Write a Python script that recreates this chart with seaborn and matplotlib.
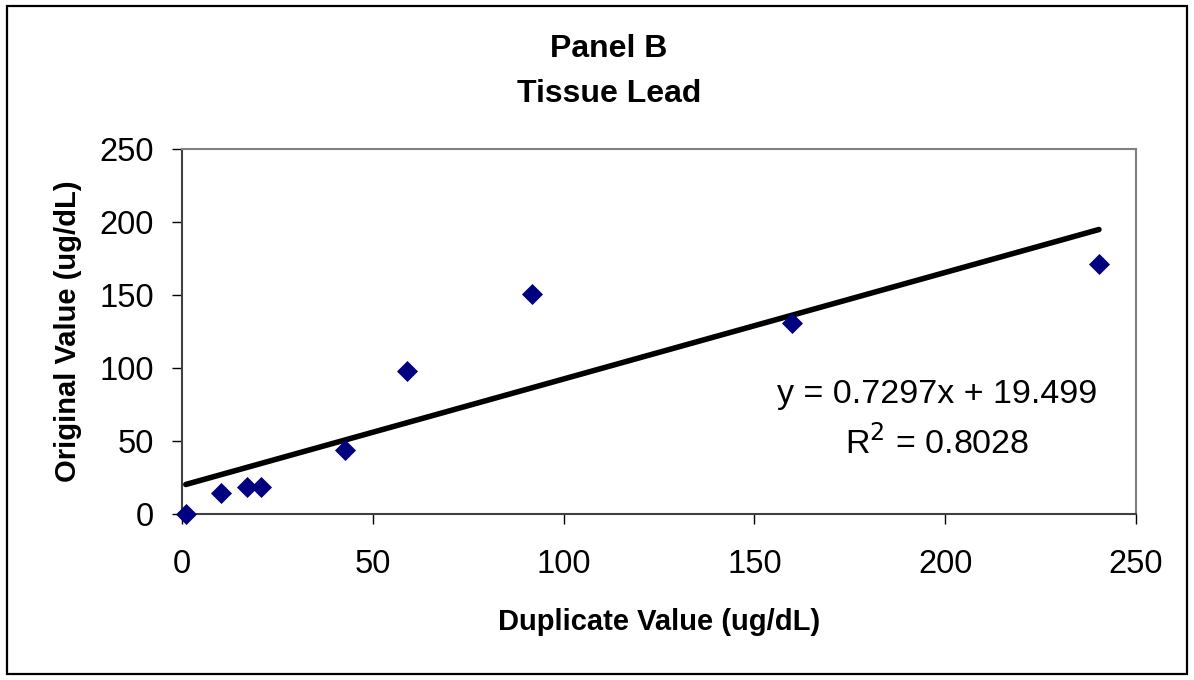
import numpy as np
import pandas as pd
import matplotlib
matplotlib.use("Agg")
import matplotlib.pyplot as plt
import seaborn as sns

# data
duplicate_value = [1.0, 10.2, 17.0, 20.7, 42.6, 59.1, 91.8, 159.8, 240.3]
original_value = [0.0, 14.4, 18.5, 18.5, 44.0, 98.2, 151.0, 131.0, 171.0]
slope = 0.7297
intercept = 19.499
r_squared = 0.8028

sns.set_style("white")
plt.rcParams["font.family"] = ["Liberation Sans", "DejaVu Sans"]
plt.rcParams["text.color"] = "black"
plt.rcParams["axes.labelcolor"] = "black"
plt.rcParams["xtick.color"] = "black"
plt.rcParams["ytick.color"] = "black"

df = pd.DataFrame({"x": duplicate_value, "y": original_value})
trend = pd.DataFrame({"x": [min(duplicate_value), max(duplicate_value)]})
trend["y"] = slope * trend["x"] + intercept

fig = plt.figure(figsize=(11.94, 6.8), dpi=100)
ax = fig.add_axes([0.1524, 0.2441, 0.799, 0.5368])

sns.lineplot(data=trend, x="x", y="y", ax=ax, color="black", linewidth=4, zorder=2)
sns.scatterplot(data=df, x="x", y="y", ax=ax, marker="D", s=115, color="#000080",
                edgecolor="#000080", linewidth=0, zorder=3, clip_on=False)

ax.set_xlim(0, 250)
ax.set_ylim(0, 250)
ax.set_xticks(range(0, 251, 50))
ax.set_yticks(range(0, 251, 50))
ax.tick_params(axis="both", labelsize=23.5, length=7, width=1, direction="out",
               color="black", bottom=True, left=True)
ax.tick_params(axis="x", pad=18)
ax.tick_params(axis="y", pad=13)

for side in ["top", "right"]:
    ax.spines[side].set_visible(True)
    ax.spines[side].set_color("#808080")
    ax.spines[side].set_linewidth(1.5)
for side in ["left", "bottom"]:
    ax.spines[side].set_color("#404040")
    ax.spines[side].set_linewidth(1.5)

ax.set_xlabel("Duplicate Value (ug/dL)", fontsize=21, fontweight="bold", labelpad=20)
ax.set_ylabel("Original Value (ug/dL)", fontsize=21, fontweight="bold", labelpad=13)

ax.text(0.792, 0.305, f"y = {slope}x + {intercept}", transform=ax.transAxes,
        fontsize=24.5, ha="center", va="baseline")
ax.text(0.792, 0.165, f"R$^2$ = {r_squared}", transform=ax.transAxes,
        fontsize=24.5, ha="center", va="baseline")

fig.text(0.51, 0.916, "Panel B", fontsize=23, fontweight="bold", ha="center", va="baseline")
fig.text(0.51, 0.85, "Tissue Lead", fontsize=23, fontweight="bold", ha="center", va="baseline")

border = plt.Rectangle((0.006, 0.009), 0.988, 0.982, transform=fig.transFigure,
                       fill=False, edgecolor="black", linewidth=1.6)
fig.patches.append(border)

fig.savefig("out.png", dpi=100)
